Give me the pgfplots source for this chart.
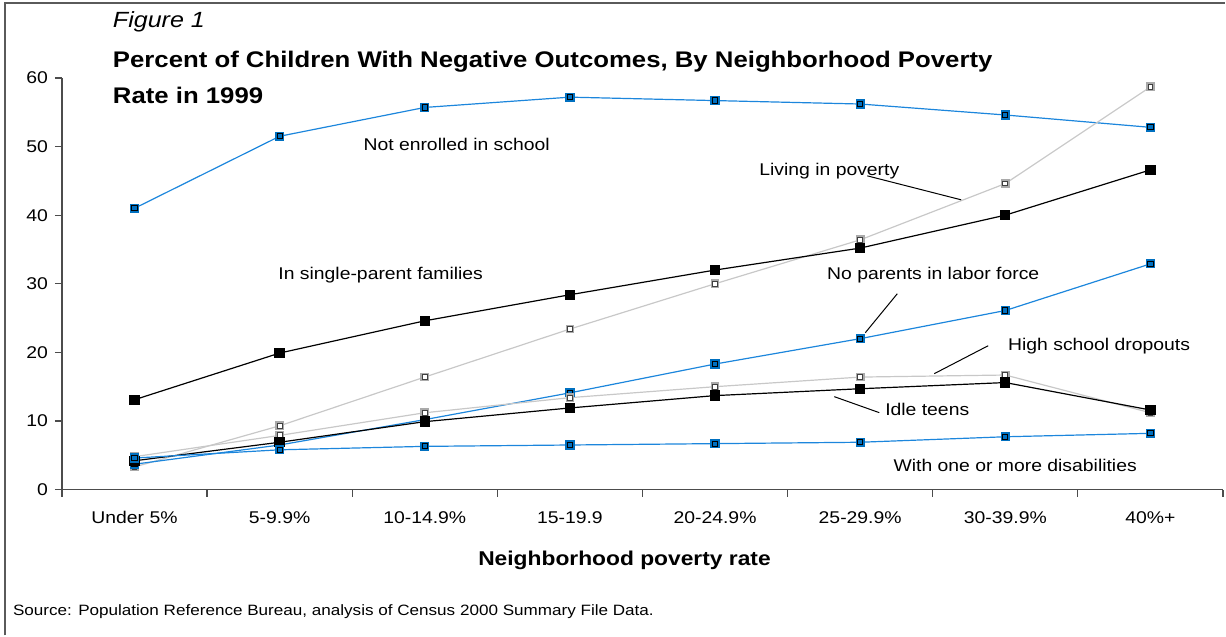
\documentclass[border=0pt]{standalone}
\usepackage{pgfplots}
\pgfplotsset{compat=1.18}
\usepackage{fontspec}
\setmainfont[FakeStretch=1.14]{Liberation Sans}
\definecolor{mkblue}{RGB}{0,112,192}
\definecolor{lnblue}{RGB}{28,134,220}
\definecolor{lngray}{RGB}{200,200,200}
\definecolor{mkgray}{RGB}{170,170,170}
\definecolor{framegray}{RGB}{90,90,90}
\pgfdeclareplotmark{bluesq}{%
  \pgfsetfillcolor{mkblue}%
  \pgfpathrectangle{\pgfpoint{-2.3pt}{-2.3pt}}{\pgfpoint{4.6pt}{4.6pt}}\pgfusepath{fill}%
  \pgfsetstrokecolor{black}\pgfsetlinewidth{0.5pt}%
  \pgfpathrectangle{\pgfpoint{-1.3pt}{-1.3pt}}{\pgfpoint{2.6pt}{2.6pt}}\pgfusepath{stroke}}
\pgfdeclareplotmark{graysq}{%
  \pgfsetfillcolor{mkgray}%
  \pgfpathrectangle{\pgfpoint{-2.2pt}{-2.2pt}}{\pgfpoint{4.4pt}{4.4pt}}\pgfusepath{fill}%
  \pgfsetstrokecolor{black!75}\pgfsetlinewidth{0.5pt}\pgfsetfillcolor{white}%
  \pgfpathrectangle{\pgfpoint{-1.2pt}{-1.2pt}}{\pgfpoint{2.4pt}{2.4pt}}\pgfusepath{fill,stroke}}
\pgfdeclareplotmark{blacksq}{%
  \pgfsetfillcolor{black}%
  \pgfpathrectangle{\pgfpoint{-2.6pt}{-2.6pt}}{\pgfpoint{5.2pt}{5.2pt}}\pgfusepath{fill}}
\begin{document}
\begin{tikzpicture}
\begin{scope}[x=0.5pt,y=0.5pt]
\path (0,0) rectangle (1226,636);
\draw[framegray,line width=1pt] (5,0) -- (5,633) -- (1226,633);
\end{scope}
\begin{axis}[
  at={(31pt,73pt)}, anchor=south west,
  scale only axis, width=581pt, height=206pt,
  xmin=-0.5, xmax=7.5, ymin=0, ymax=60,
  axis x line=bottom, axis y line=left,
  axis line style={-, black!70, line width=0.6pt},
  xtick={0,...,7},
  xticklabels={Under 5\%,5-9.9\%,10-14.9\%,15-19.9,20-24.9\%,25-29.9\%,30-39.9\%,40\%+},
  major x tick style={draw=none},
  minor xtick={-0.5,0.5,...,7.5},
  minor x tick style={black!70, line width=0.6pt},
  minor tick length=3.5pt,
  ytick={0,10,...,60},
  major y tick style={black!70, line width=0.6pt},
  major tick length=3.5pt,
  tick align=outside,
  tick label style={font=\fontsize{8.5}{10}\selectfont},
  /pgf/number format/assume math mode=true,
  yticklabel style={xshift=0pt},
  xticklabel style={yshift=-4pt},
  clip=false,
]
\addplot[lnblue, line width=0.6pt, mark=bluesq] coordinates {(0,41.0) (1,51.5) (2,55.7) (3,57.2) (4,56.7) (5,56.2) (6,54.6) (7,52.8)};
\addplot[lngray, line width=0.6pt, mark=graysq] coordinates {(0,3.3) (1,9.3) (2,16.4) (3,23.4) (4,30.0) (5,36.4) (6,44.6) (7,58.7)};
\addplot[black, line width=0.6pt, mark=blacksq] coordinates {(0,13.1) (1,19.9) (2,24.6) (3,28.4) (4,32.0) (5,35.2) (6,40.0) (7,46.6)};
\addplot[lnblue, line width=0.6pt, mark=bluesq] coordinates {(0,3.7) (1,6.5) (2,10.2) (3,14.1) (4,18.3) (5,22.0) (6,26.1) (7,32.9)};
\addplot[lngray, line width=0.6pt, mark=graysq] coordinates {(0,4.8) (1,7.9) (2,11.2) (3,13.4) (4,15.0) (5,16.4) (6,16.7) (7,11.2)};
\addplot[black, line width=0.6pt, mark=blacksq] coordinates {(0,4.2) (1,6.9) (2,9.9) (3,11.9) (4,13.7) (5,14.7) (6,15.6) (7,11.6)};
\addplot[lnblue, line width=0.6pt, mark=bluesq] coordinates {(0,4.6) (1,5.8) (2,6.3) (3,6.5) (4,6.7) (5,6.9) (6,7.7) (7,8.2)};
\end{axis}
\begin{scope}[x=0.5pt,y=0.5pt]
% titles
\node[anchor=west, font=\fontsize{11}{13}\selectfont\itshape] at (106,614) {Figure 1};
\node[anchor=west, font=\fontsize{11.3}{13}\selectfont\bfseries] at (106,574) {Percent of Children With Negative Outcomes, By Neighborhood Poverty};
\node[anchor=west, font=\fontsize{11.3}{13}\selectfont\bfseries] at (106,540) {Rate in 1999};
\node[font=\fontsize{10}{12}\selectfont\bfseries] at (625,75) {Neighborhood poverty rate};
\node[anchor=west, font=\fontsize{7.5}{9}\selectfont] at (6,24) {Source: Population Reference Bureau, analysis of Census 2000 Summary File Data.};
% series labels
\begin{scope}[every node/.style={font=\fontsize{8.5}{10}\selectfont}]
\node at (457,491) {Not enrolled in school};
\node at (830,465) {Living in poverty};
\node at (381,361) {In single-parent families};
\node at (934,361) {No parents in labor force};
\node at (1100,290) {High school dropouts};
\node at (928,226) {Idle teens};
\node at (1016,170) {With one or more disabilities};
\end{scope}
\draw[black, line width=0.5pt] (868,460) -- (962,436);
\draw[black, line width=0.5pt] (898,342) -- (866,303);
\draw[black, line width=0.5pt] (989,290) -- (935,262);
\draw[black, line width=0.5pt] (835,239) -- (880,223);
\end{scope}
\end{tikzpicture}
\end{document}
